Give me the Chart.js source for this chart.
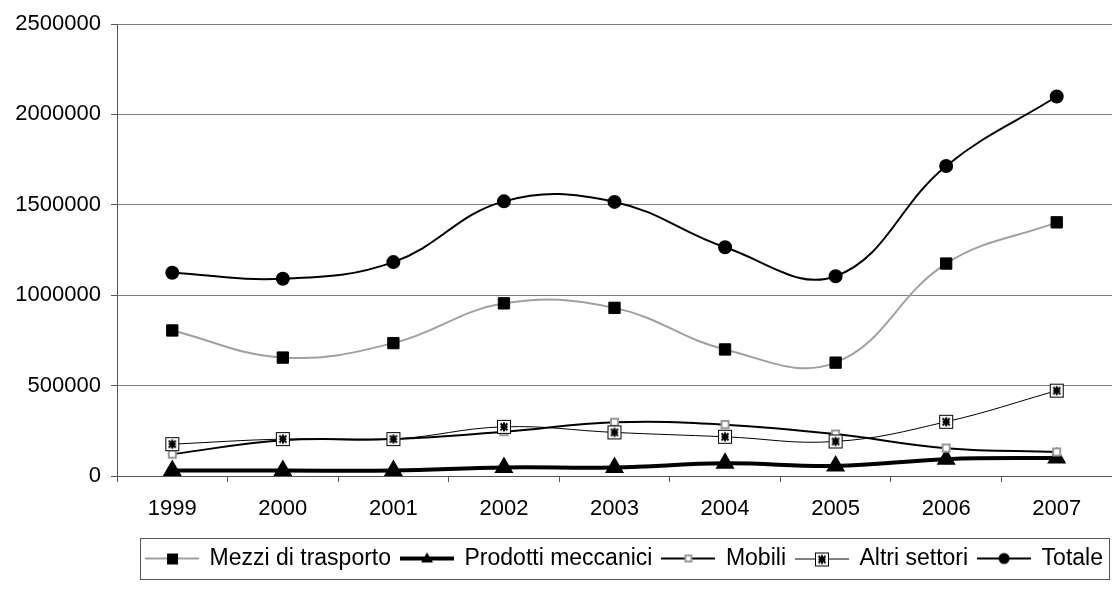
<!DOCTYPE html>
<html>
<head>
<meta charset="utf-8">
<script src="https://cdn.jsdelivr.net/npm/chart.js@4/dist/chart.umd.min.js"></script>
<style>
  body { margin: 0; background: #fff; }
  #wrap { width: 1112px; height: 594px; }
</style>
</head>
<body>
<div id="wrap"><canvas id="myLineChart"></canvas></div>
<script>
// data
const years = ["1999", "2000", "2001", "2002", "2003", "2004", "2005", "2006", "2007"];
const mezzi = [805000, 655000, 735000, 955000, 930000, 700000, 627000, 1175000, 1403000];
const prodotti = [30000, 30000, 30000, 47000, 47000, 70000, 56000, 93000, 100000];
const mobili = [121000, 198000, 204000, 245000, 297000, 284000, 232000, 154000, 133000];
const altri = [176000, 204000, 204000, 272000, 241000, 217000, 191000, 300000, 472000];
const totale = [1124000, 1091000, 1183000, 1519000, 1516000, 1265000, 1105000, 1715000, 2099000];
const yTicks = [0, 500000, 1000000, 1500000, 2000000, 2500000];

Chart.defaults.font.family = "'Liberation Sans', Arial, sans-serif";
Chart.defaults.font.size = 22;
Chart.defaults.color = "#000";

// boxed asterisk marker for "Altri settori"
function starBox() {
  const c = document.createElement("canvas");
  c.width = 16; c.height = 16;
  const g = c.getContext("2d");
  g.fillStyle = "#fff";
  g.fillRect(1, 1, 14, 14);
  g.strokeStyle = "#000";
  g.lineWidth = 1;
  g.strokeRect(1.5, 1.5, 13, 13);
  g.lineWidth = 2;
  g.beginPath();
  g.moveTo(4.5, 4.5); g.lineTo(11.5, 11.5);
  g.moveTo(11.5, 4.5); g.lineTo(4.5, 11.5);
  g.moveTo(8, 3.5); g.lineTo(8, 12.5);
  g.moveTo(4.5, 8); g.lineTo(11.5, 8);
  g.stroke();
  return c;
}
const altriMarker = starBox();

// legend sample: line with the marker in the middle
function sample(lineColor, lineWidth, drawMarker) {
  const c = document.createElement("canvas");
  c.width = 54; c.height = 18;
  const g = c.getContext("2d");
  const y = lineWidth % 2 ? 9.5 : 9;
  g.strokeStyle = lineColor;
  g.lineWidth = lineWidth;
  g.beginPath();
  g.moveTo(0, y); g.lineTo(54, y);
  g.stroke();
  drawMarker(g, 27, 9);
  return c;
}

const legendSamples = [
  sample("#a0a0a0", 2, (g, x, y) => { g.fillStyle = "#000"; g.fillRect(x - 5, y - 5, 11, 11); }),
  sample("#000", 4, (g, x, y) => {
    g.fillStyle = "#000";
    g.beginPath(); g.moveTo(x, y - 6); g.lineTo(x + 6, y + 4); g.lineTo(x - 6, y + 4); g.closePath(); g.fill();
  }),
  sample("#000", 2, (g, x, y) => {
    g.fillStyle = "#fff"; g.fillRect(x - 3, y - 3, 6, 6);
    g.strokeStyle = "#999"; g.lineWidth = 2; g.strokeRect(x - 3, y - 3, 6, 6);
  }),
  sample("#000", 1, (g, x, y) => { g.drawImage(altriMarker, x - 8, y - 7); }),
  sample("#000", 2, (g, x, y) => {
    g.fillStyle = "#000"; g.beginPath(); g.arc(x, y, 5.5, 0, Math.PI * 2); g.fill();
  }),
];

const data = {
  labels: years,
  datasets: [
    {
      label: "Mezzi di trasporto",
      data: mezzi,
      borderColor: "#a0a0a0",
      borderWidth: 2,
      pointStyle: "rect",
      pointRadius: 8,
      pointBackgroundColor: "#000",
      pointBorderColor: "#000",
      pointBorderWidth: 1,
      order: 4,
    },
    {
      label: "Prodotti meccanici",
      data: prodotti,
      borderColor: "#000",
      borderWidth: 4,
      pointStyle: "triangle",
      pointRadius: 7,
      pointBackgroundColor: "#000",
      pointBorderColor: "#000",
      order: 3,
    },
    {
      label: "Mobili",
      data: mobili,
      borderColor: "#000",
      borderWidth: 2,
      pointStyle: "rect",
      pointRadius: 5,
      pointBackgroundColor: "#fff",
      pointBorderColor: "#999",
      pointBorderWidth: 2,
      order: 2,
    },
    {
      label: "Altri settori",
      data: altri,
      borderColor: "#000",
      borderWidth: 1,
      pointStyle: altriMarker,
      order: 1,
    },
    {
      label: "Totale",
      data: totale,
      borderColor: "#000",
      borderWidth: 2,
      pointStyle: "circle",
      pointRadius: 6,
      pointBackgroundColor: "#000",
      pointBorderColor: "#000",
      order: 0,
    },
  ],
};

// nudge the legend a bit right and draw a box round it
const legendBorder = {
  id: "legendBorder",
  afterLayout(chart) {
    const lg = chart.legend;
    lg.left += 10;
    lg.right += 10;
  },
  afterDraw(chart) {
    const boxes = chart.legend.legendHitBoxes;
    if (!boxes || !boxes.length) return;
    let x1 = Infinity, y1 = Infinity, x2 = -Infinity, y2 = -Infinity;
    boxes.forEach(b => {
      x1 = Math.min(x1, b.left); y1 = Math.min(y1, b.top);
      x2 = Math.max(x2, b.left + b.width); y2 = Math.max(y2, b.top + b.height);
    });
    const ctx = chart.ctx;
    ctx.save();
    ctx.strokeStyle = "#555";
    ctx.lineWidth = 1;
    ctx.strokeRect(Math.round(x1 - 6) + 0.5, Math.round(y1 - 9) + 0.5, Math.round(x2 - x1 + 12), Math.round(y2 - y1 + 18));
    ctx.restore();
  },
};

const config = {
  type: "line",
  data: data,
  options: {
    responsive: true,
    maintainAspectRatio: false,
    animation: false,
    layout: { autoPadding: false, padding: { top: 24, right: 0, bottom: 14, left: 0 } },
    elements: { line: { tension: 0.4, fill: false } },
    scales: {
      x: {
        offset: true,
        grid: { offset: true, drawOnChartArea: false, tickLength: 6, color: "#555" },
        border: { color: "#555" },
        ticks: { padding: 14, maxRotation: 0 },
        afterFit(scale) {
          scale.height = 61;
          scale.paddingLeft = 0;
          scale.paddingRight = 0;
        },
      },
      y: {
        min: 0,
        max: 2500000,
        afterBuildTicks(scale) { scale.ticks = yTicks.map(v => ({ value: v })); },
        grid: { color: "#808080", tickLength: 6, tickColor: "#555" },
        border: { color: "#555" },
        ticks: { padding: 10, callback: v => String(v) },
        afterFit(scale) { scale.width = 117; },
      },
    },
    plugins: {
      tooltip: { enabled: false },
      legend: {
        position: "bottom",
        fullSize: false,
        labels: {
          usePointStyle: true,
          pointStyleWidth: 52,
          padding: 10,
          font: { size: 23 },
          generateLabels(chart) {
            return chart.data.datasets.map((ds, i) => ({
              text: ds.label,
              pointStyle: legendSamples[i],
              fillStyle: "#000",
              strokeStyle: "#000",
              lineWidth: 0,
              datasetIndex: i,
              fontColor: "#000",
            }));
          },
        },
      },
    },
  },
  plugins: [legendBorder],
};

const ctx = document.getElementById("myLineChart").getContext("2d");
const myLineChart = new Chart(ctx, config);
</script>
</body>
</html>
